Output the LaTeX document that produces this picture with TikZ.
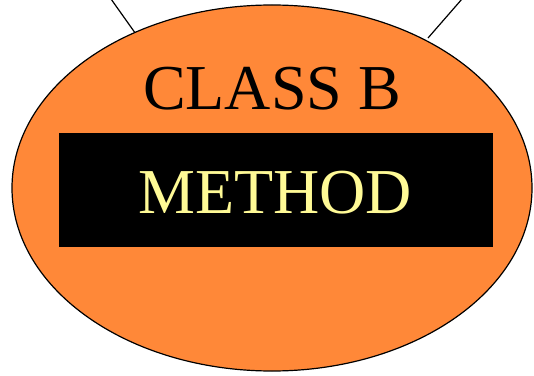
\documentclass[tikz,border=0pt]{standalone}
\usepackage{fontspec}
\setmainfont{Liberation Serif}
\usetikzlibrary{shapes.geometric}
\definecolor{orangefill}{RGB}{255,136,56}
\definecolor{paleyellow}{RGB}{255,250,150}
\tikzset{
  classell/.style={ellipse, draw=black, line width=1.2pt, fill=orangefill, minimum width=520pt, minimum height=366pt, inner sep=0pt},
  methodbox/.style={rectangle, fill=black, minimum width=434pt, minimum height=114pt, inner sep=0pt},
  link/.style={draw=black, line width=1.2pt},
  bigtext/.style={font=\fontsize{64}{72}\selectfont, inner sep=0pt, anchor=base}
}
\begin{document}
\begin{tikzpicture}[x=1pt,y=1pt]
\useasboundingbox (0,0) rectangle (534,375);
\coordinate (t1) at (111,376);
\coordinate (t2) at (462,376);
\coordinate (e1) at (138,338);
\coordinate (e2) at (428,337);
\draw[link] (t1) -- (e1);
\draw[link] (t2) -- (e2);
\node[classell] (classb) at (272,187) {};
\node[methodbox] (mbox) at (276,185) {};
\node[bigtext, text=black] (cname) at (272,265) {CLASS B};
\node[bigtext, text=paleyellow] (mname) at (275,162) {METHOD};
\end{tikzpicture}
\end{document}
